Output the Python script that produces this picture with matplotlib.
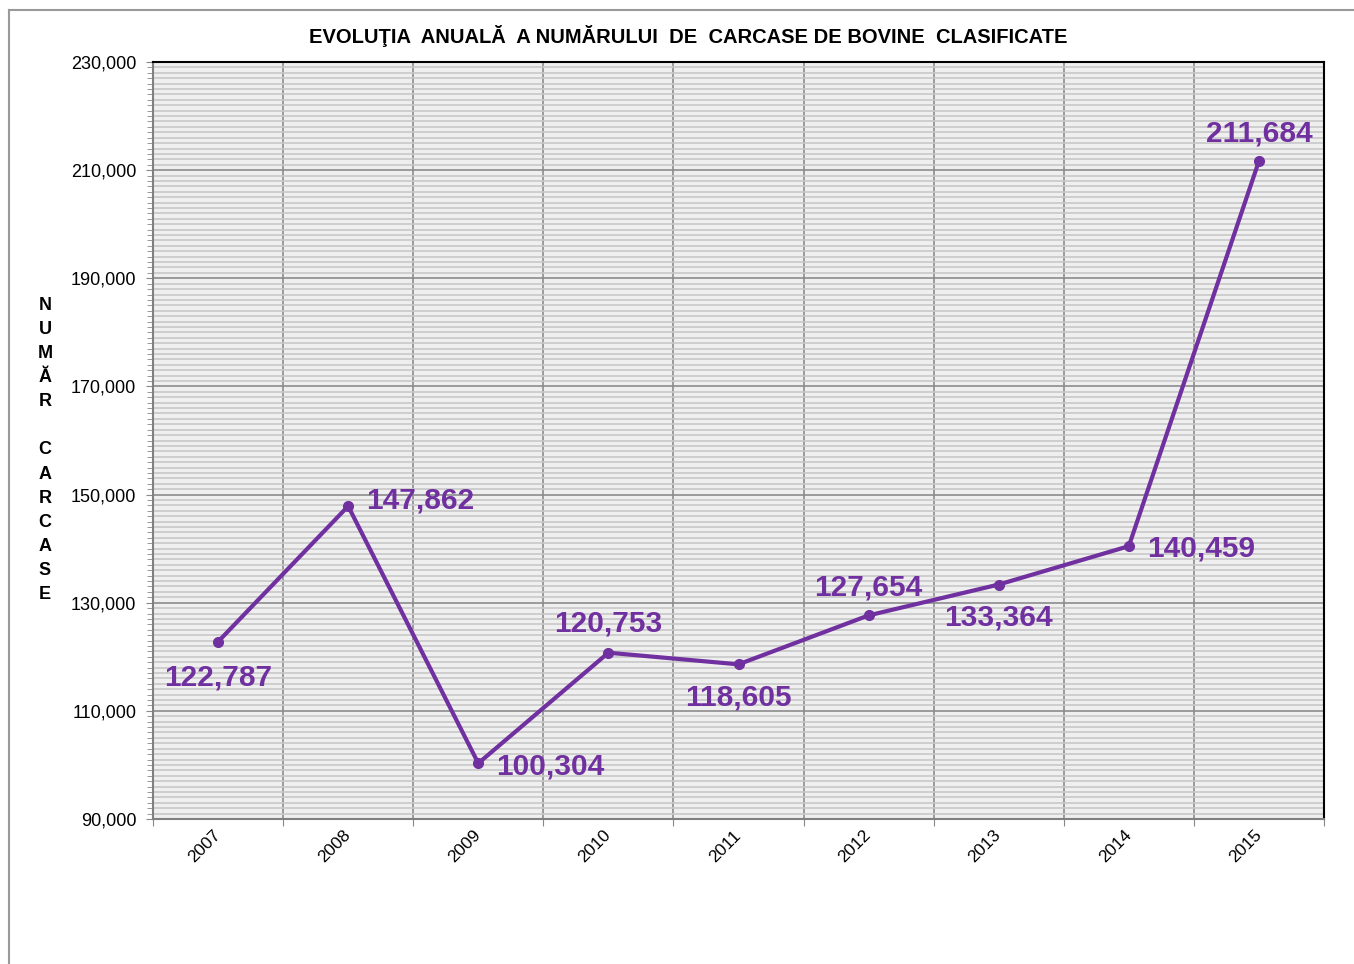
import numpy as np
import matplotlib
matplotlib.use("Agg")
import matplotlib.pyplot as plt
from matplotlib.ticker import FixedLocator, MultipleLocator, FuncFormatter
from matplotlib.lines import Line2D

plt.rcParams['font.family'] = ['Liberation Sans', 'DejaVu Sans']

years = ['2007', '2008', '2009', '2010', '2011', '2012', '2013', '2014', '2015']
carcase = [122787, 147862, 100304, 120753, 118605, 127654, 133364, 140459, 211684]
# where each value label sits: (dx points, dy points, ha, va)
label_pos = [(0, -16, 'center', 'top'), (13, 4, 'left', 'center'),
             (13, -2, 'left', 'center'), (0, 11, 'center', 'bottom'),
             (0, -14, 'center', 'top'), (0, 10, 'center', 'bottom'),
             (0, -14, 'center', 'top'), (13, -2, 'left', 'center'),
             (0, 10, 'center', 'bottom')]

purple = '#7030A0'

fig = plt.figure(figsize=(13.54, 9.64), dpi=100)
ax = fig.add_axes([153/1354, 1 - 819/964, (1324-153)/1354, (819-62)/964])
ax.set_facecolor('#EFEFEF')

x = np.arange(len(years))
ax.plot(x, carcase, color=purple, lw=3, marker='o', ms=7, zorder=5)

for i, v in enumerate(carcase):
    dx, dy, ha, va = label_pos[i]
    ax.annotate(f'{v:,}', (x[i], v), xytext=(dx, dy), textcoords='offset points',
                ha=ha, va=va, color=purple, fontsize=21.5, fontweight='bold', zorder=6)

ax.set_xlim(-0.5, len(years) - 0.5)
ax.set_ylim(90000, 230000)
ax.yaxis.set_major_locator(FixedLocator(np.arange(90000, 230001, 20000)))
ax.yaxis.set_minor_locator(MultipleLocator(1000))
ax.yaxis.set_major_formatter(FuncFormatter(lambda v, p: f'{int(v):,}'))

# category boundaries for vertical grid
ax.set_xticks(np.arange(-0.5, len(years)), minor=False)
ax.set_xticklabels([])
ax.set_xticks(x, minor=True)
ax.set_xticklabels(years, minor=True, rotation=45, fontsize=12.5,
                   ha='right', va='center', rotation_mode='anchor')
ax.tick_params(axis='x', which='minor', length=0, pad=10)
ax.tick_params(axis='x', which='major', length=5, color='#888888')
ax.tick_params(axis='y', which='major', labelsize=13, length=5, pad=7, color='#888888')
ax.tick_params(axis='y', which='minor', length=4, color='#888888')

ax.grid(True, axis='y', which='minor', color='#C8C8C8', lw=1.2)
ax.grid(True, axis='y', which='major', color='#8C8C8C', lw=1.2)
ax.grid(True, axis='x', which='major', color='#8C8C8C', lw=1.2)
ax.set_axisbelow(True)

for s in ['top', 'right']:
    ax.spines[s].set_color('black')
    ax.spines[s].set_linewidth(1.5)
for s in ['left', 'bottom']:
    ax.spines[s].set_color('#808080')
    ax.spines[s].set_linewidth(1.5)

fig.text(688/1354, 1 - 36/964, 'EVOLUŢIA  ANUALĂ  A NUMĂRULUI  DE  CARCASE DE BOVINE  CLASIFICATE',
         ha='center', va='center', fontsize=14.5, fontweight='bold')

ylab = 'NUMĂR  CARCASE'
fig.text(45/1354, 1 - 450/964, '\n'.join(ylab.replace('  ', ' ')), ha='center', va='center',
         fontsize=13, fontweight='bold', linespacing=1.55)

# outer frame (top and left only visible)
fig.add_artist(Line2D([9/1354, 1], [1 - 10/964, 1 - 10/964], color='#999999', lw=1.5))
fig.add_artist(Line2D([9/1354, 9/1354], [0, 1 - 10/964], color='#999999', lw=1.5))

fig.savefig('out.png', dpi=100)
